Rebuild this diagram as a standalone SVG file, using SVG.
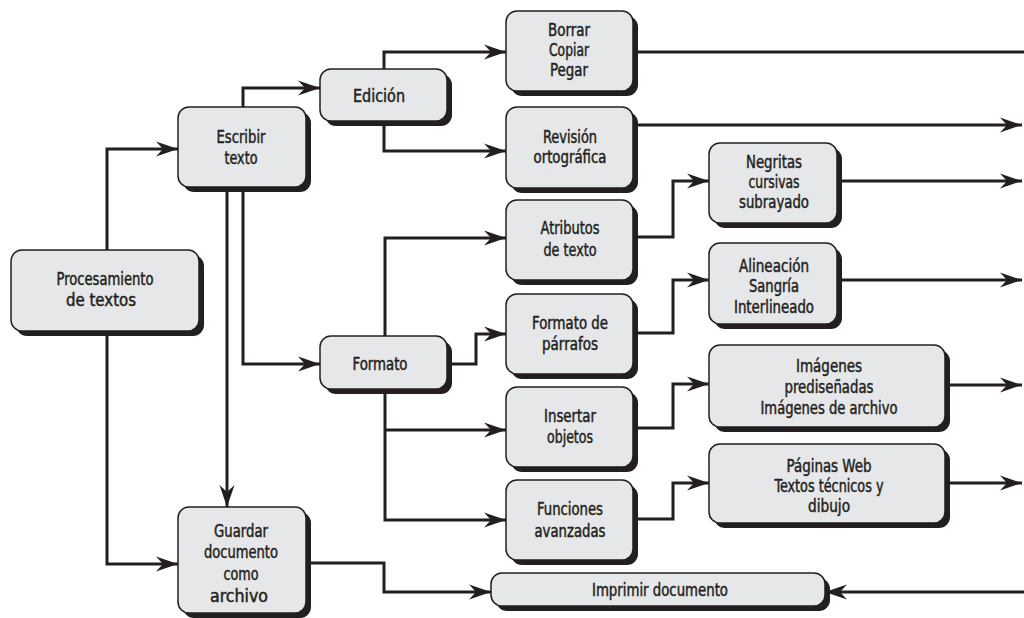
<svg xmlns="http://www.w3.org/2000/svg" width="1024" height="618" viewBox="0 0 1024 618">
<defs>
<style>
.box{fill:#e6e7e8;stroke:#231f20;stroke-width:1.5}
.sh{fill:#231f20}
.t{font-family:"DejaVu Sans Condensed","DejaVu Sans",sans-serif;font-stretch:condensed;font-size:17px;fill:#231f20;stroke:#231f20;stroke-width:0.45;text-anchor:middle}
.c{fill:none;stroke:#231f20;stroke-width:3}
.a{marker-end:url(#arr)}
</style>
<marker id="arr" markerUnits="userSpaceOnUse" markerWidth="26" markerHeight="18" viewBox="-24 -9 26 18" refX="0" refY="0" orient="auto">
<path d="M0,0 L-22,-7.5 L-15,0 L-22,7.5 Z" fill="#231f20"/>
</marker>
</defs>
<rect width="1024" height="618" fill="#ffffff"/>
<g id="connectors">
<path class="c a" d="M107,250 V149 H178"/>
<path class="c a" d="M107,331 V564 H178"/>
<path class="c a" d="M243,107 V88 H320"/>
<path class="c a" d="M227,187 V507"/>
<path class="c a" d="M243,187 V364 H320"/>
<path class="c a" d="M384,69 V52 H506"/>
<path class="c a" d="M384,121 V151 H506"/>
<path class="c" d="M633,52 H1024"/>
<path class="c a" d="M633,125 H1022"/>
<path class="c a" d="M633,237 H673 V181 H709"/>
<path class="c a" d="M837,181 H1022"/>
<path class="c a" d="M633,333 H673 V280 H709"/>
<path class="c a" d="M837,280 H1022"/>
<path class="c a" d="M385,336 V238 H506"/>
<path class="c a" d="M447,364 H476 V334 H506"/>
<path class="c a" d="M385,389 V520 H506"/>
<path class="c a" d="M385,430 H506"/>
<path class="c a" d="M633,428 H673 V384 H709"/>
<path class="c a" d="M945,385 H1022"/>
<path class="c a" d="M633,519 H673 V483 H709"/>
<path class="c a" d="M945,483 H1022"/>
<path class="c a" d="M306,563 H384 V592 H491"/>
<path class="c a" d="M1024,592 H825"/>
</g>
<g id="procesamiento">
<rect class="sh" x="16" y="255" width="188" height="81" rx="11"/>
<rect class="box" x="11" y="250" width="188" height="81" rx="11"/>
<text class="t" x="105" y="285" textLength="97" lengthAdjust="spacingAndGlyphs">Procesamiento</text>
<text class="t" x="101" y="306" textLength="70" lengthAdjust="spacingAndGlyphs">de textos</text>
</g>
<g id="escribir">
<rect class="sh" x="183" y="112" width="128" height="80" rx="11"/>
<rect class="box" x="178" y="107" width="128" height="80" rx="11"/>
<text class="t" x="241" y="143" textLength="49" lengthAdjust="spacingAndGlyphs">Escribir</text>
<text class="t" x="241" y="164" textLength="33" lengthAdjust="spacingAndGlyphs">texto</text>
</g>
<g id="edicion">
<rect class="sh" x="325" y="74" width="127" height="52" rx="11"/>
<rect class="box" x="320" y="69" width="127" height="52" rx="11"/>
<text class="t" x="379" y="102" textLength="52" lengthAdjust="spacingAndGlyphs">Edición</text>
</g>
<g id="borrar">
<rect class="sh" x="511" y="16" width="127" height="80" rx="11"/>
<rect class="box" x="506" y="11" width="127" height="80" rx="11"/>
<text class="t" x="569" y="36" textLength="42" lengthAdjust="spacingAndGlyphs">Borrar</text>
<text class="t" x="569" y="56" textLength="40" lengthAdjust="spacingAndGlyphs">Copiar</text>
<text class="t" x="569" y="76" textLength="38" lengthAdjust="spacingAndGlyphs">Pegar</text>
</g>
<g id="revision">
<rect class="sh" x="511" y="112" width="127" height="81" rx="11"/>
<rect class="box" x="506" y="107" width="127" height="81" rx="11"/>
<text class="t" x="570" y="143" textLength="54" lengthAdjust="spacingAndGlyphs">Revisión</text>
<text class="t" x="570" y="163" textLength="73" lengthAdjust="spacingAndGlyphs">ortográfica</text>
</g>
<g id="atributos">
<rect class="sh" x="511" y="205" width="127" height="80" rx="11"/>
<rect class="box" x="506" y="200" width="127" height="80" rx="11"/>
<text class="t" x="570" y="234" textLength="59" lengthAdjust="spacingAndGlyphs">Atributos</text>
<text class="t" x="570" y="256" textLength="53" lengthAdjust="spacingAndGlyphs">de texto</text>
</g>
<g id="formato-parrafos">
<rect class="sh" x="511" y="299" width="127" height="80" rx="11"/>
<rect class="box" x="506" y="294" width="127" height="80" rx="11"/>
<text class="t" x="570" y="329" textLength="76" lengthAdjust="spacingAndGlyphs">Formato de</text>
<text class="t" x="570" y="350" textLength="56" lengthAdjust="spacingAndGlyphs">párrafos</text>
</g>
<g id="formato">
<rect class="sh" x="325" y="341" width="127" height="53" rx="11"/>
<rect class="box" x="320" y="336" width="127" height="53" rx="11"/>
<text class="t" x="380" y="370" textLength="55" lengthAdjust="spacingAndGlyphs">Formato</text>
</g>
<g id="insertar">
<rect class="sh" x="511" y="392" width="127" height="80" rx="11"/>
<rect class="box" x="506" y="387" width="127" height="80" rx="11"/>
<text class="t" x="570" y="422" textLength="52" lengthAdjust="spacingAndGlyphs">Insertar</text>
<text class="t" x="570" y="443" textLength="46" lengthAdjust="spacingAndGlyphs">objetos</text>
</g>
<g id="funciones">
<rect class="sh" x="511" y="485" width="127" height="80" rx="11"/>
<rect class="box" x="506" y="480" width="127" height="80" rx="11"/>
<text class="t" x="570" y="515" textLength="66" lengthAdjust="spacingAndGlyphs">Funciones</text>
<text class="t" x="570" y="537" textLength="71" lengthAdjust="spacingAndGlyphs">avanzadas</text>
</g>
<g id="negritas">
<rect class="sh" x="714" y="148" width="128" height="80" rx="11"/>
<rect class="box" x="709" y="143" width="128" height="80" rx="11"/>
<text class="t" x="774" y="168" textLength="56" lengthAdjust="spacingAndGlyphs">Negritas</text>
<text class="t" x="774" y="188" textLength="51" lengthAdjust="spacingAndGlyphs">cursivas</text>
<text class="t" x="774" y="208" textLength="70" lengthAdjust="spacingAndGlyphs">subrayado</text>
</g>
<g id="alineacion">
<rect class="sh" x="714" y="248" width="128" height="81" rx="11"/>
<rect class="box" x="709" y="243" width="128" height="81" rx="11"/>
<text class="t" x="774" y="272" textLength="70" lengthAdjust="spacingAndGlyphs">Alineación</text>
<text class="t" x="774" y="292" textLength="50" lengthAdjust="spacingAndGlyphs">Sangría</text>
<text class="t" x="774" y="313" textLength="80" lengthAdjust="spacingAndGlyphs">Interlineado</text>
</g>
<g id="imagenes">
<rect class="sh" x="714" y="350" width="236" height="82" rx="11"/>
<rect class="box" x="709" y="345" width="236" height="82" rx="11"/>
<text class="t" x="829" y="372" textLength="66" lengthAdjust="spacingAndGlyphs">Imágenes</text>
<text class="t" x="829" y="393" textLength="89" lengthAdjust="spacingAndGlyphs">prediseñadas</text>
<text class="t" x="829" y="414" textLength="137" lengthAdjust="spacingAndGlyphs">Imágenes de archivo</text>
</g>
<g id="paginas">
<rect class="sh" x="714" y="449" width="236" height="79" rx="11"/>
<rect class="box" x="709" y="444" width="236" height="79" rx="11"/>
<text class="t" x="829" y="472" textLength="85" lengthAdjust="spacingAndGlyphs">Páginas Web</text>
<text class="t" x="829" y="492" textLength="109" lengthAdjust="spacingAndGlyphs">Textos técnicos y</text>
<text class="t" x="829" y="512" textLength="42" lengthAdjust="spacingAndGlyphs">dibujo</text>
</g>
<g id="imprimir">
<rect class="sh" x="496" y="578" width="334" height="33" rx="11"/>
<rect class="box" x="491" y="573" width="334" height="33" rx="11"/>
<text class="t" x="660" y="596" textLength="136" lengthAdjust="spacingAndGlyphs">Imprimir documento</text>
</g>
<g id="guardar">
<rect class="sh" x="183" y="512" width="128" height="106" rx="11"/>
<rect class="box" x="178" y="507" width="128" height="106" rx="11"/>
<text class="t" x="241" y="537" textLength="54" lengthAdjust="spacingAndGlyphs">Guardar</text>
<text class="t" x="241" y="558" textLength="74" lengthAdjust="spacingAndGlyphs">documento</text>
<text class="t" x="241" y="580" textLength="35" lengthAdjust="spacingAndGlyphs">como</text>
<text class="t" x="239" y="602" textLength="58" lengthAdjust="spacingAndGlyphs">archivo</text>
</g>
</svg>
